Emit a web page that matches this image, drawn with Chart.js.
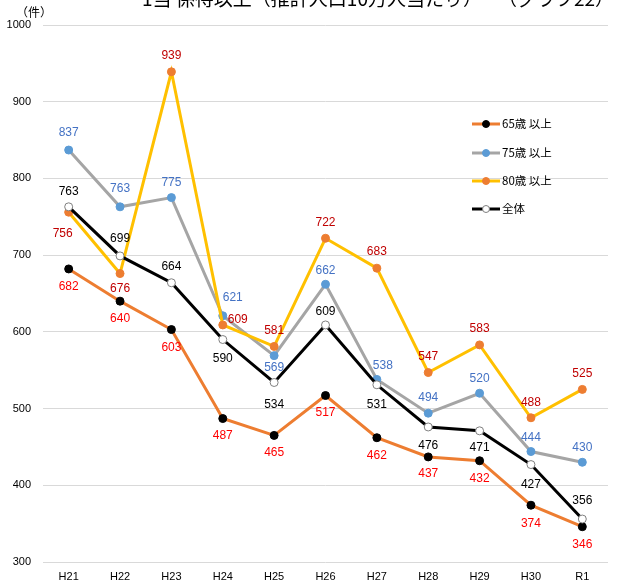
<!DOCTYPE html>
<html>
<head>
<meta charset="utf-8">
<script src="https://cdn.jsdelivr.net/npm/chart.js@4"></script>
<style>
  html, body { margin: 0; padding: 0; background: #fff; overflow: hidden; }
  #wrap { width: 619px; height: 586px; position: relative; }
</style>
</head>
<body>
<div id="wrap"><canvas id="grafico"></canvas></div>
<script>
// データ
const categories = ['H21', 'H22', 'H23', 'H24', 'H25', 'H26', 'H27', 'H28', 'H29', 'H30', 'R1'];
const over65 = [682, 640, 603, 487, 465, 517, 462, 437, 432, 374, 346];
const over75 = [837, 763, 775, 621, 569, 662, 538, 494, 520, 444, 430];
const over80 = [756, 676, 939, 609, 581, 722, 683, 547, 583, 488, 525];
const total  = [763, 699, 664, 590, 534, 609, 531, 476, 471, 427, 356];
const yTicks = [300, 400, 500, 600, 700, 800, 900, 1000];

// ラベル位置 (dx, dy)
const lbl65 = [[0,18],[0,18],[0,18],[0,17],[0,17],[0,17],[0,18],[0,17],[0,18],[0,18],[0,18]];
const lbl75 = [[0,-17],[0,-18],[0,-15],[10,-18],[0,12],[0,-14],[6,-14],[0,-15],[0,-15],[0,-14],[0,-15]];
const lbl80 = [[-6,22],[0,15],[0,-16],[15,-5],[0,-16],[0,-16],[0,-16],[0,-16],[0,-16],[0,-15],[0,-16]];
const lblAll = [[0,-15],[0,-17],[0,-16],[0,19],[0,22],[0,-13],[0,20],[0,19],[0,17],[0,20],[0,-18]];

const FONT = '"Liberation Sans", "Noto Sans CJK JP", sans-serif';

const labelPlugin = {
    id: 'pointLabels',
    afterDatasetsDraw(chart) {
        const ctx = chart.ctx;
        ctx.save();
        ctx.font = '12px ' + FONT;
        ctx.textAlign = 'center';
        ctx.textBaseline = 'middle';
        chart.data.datasets.forEach((ds, i) => {
            const meta = chart.getDatasetMeta(i);
            ctx.fillStyle = ds.labelColor;
            meta.data.forEach((pt, j) => {
                const off = ds.labelOffsets[j];
                ctx.fillText(ds.data[j], pt.x + off[0], pt.y + off[1]);
            });
        });
        ctx.restore();
    }
};

const legendPlugin = {
    id: 'innerLegend',
    afterDraw(chart) {
        const ctx = chart.ctx;
        ctx.save();
        ctx.font = '11.5px "Noto Sans CJK JP", sans-serif';
        ctx.textBaseline = 'middle';
        const x0 = 472, ys = [124, 153, 181, 209];
        chart.data.datasets.forEach((ds, i) => {
            const y = ys[i];
            ctx.strokeStyle = ds.borderColor;
            ctx.lineWidth = 3;
            ctx.beginPath();
            ctx.moveTo(x0, y);
            ctx.lineTo(x0 + 28, y);
            ctx.stroke();
            ctx.beginPath();
            ctx.arc(x0 + 14, y, 3.5, 0, Math.PI * 2);
            ctx.fillStyle = ds.pointBackgroundColor;
            ctx.fill();
            ctx.lineWidth = 1;
            ctx.strokeStyle = ds.pointBorderColor;
            ctx.stroke();
            ctx.fillStyle = '#000';
            ctx.fillText(ds.label, x0 + 30, y);
        });
        ctx.restore();
    }
};

const titlePlugin = {
    id: 'topTexts',
    afterDraw(chart) {
        const ctx = chart.ctx;
        ctx.save();
        ctx.fillStyle = '#000';
        ctx.textBaseline = 'alphabetic';
        ctx.font = '19px "Noto Sans CJK JP", sans-serif';
        ctx.textAlign = 'center';
        ctx.fillText('1当 係待以上（推計人口10万人当たり）', 312, 6);
        ctx.textAlign = 'right';
        ctx.fillText('（グラフ22）', 614, 6);
        ctx.font = '12px "Noto Sans CJK JP", sans-serif';
        ctx.textAlign = 'left';
        ctx.textBaseline = 'middle';
        ctx.fillText('（件）', 16, 12);
        ctx.restore();
    }
};

document.addEventListener('DOMContentLoaded', function() {
    const ctx = document.getElementById('grafico');
    new Chart(ctx, {
        type: 'line',
        data: {
            labels: categories,
            datasets: [{
                label: '65歳 以上',
                data: over65,
                borderColor: '#ED7D31',
                pointBackgroundColor: '#000000',
                pointBorderColor: '#000000',
                labelColor: '#FF0000',
                labelOffsets: lbl65,
                order: 3
            }, {
                label: '75歳 以上',
                data: over75,
                borderColor: '#A5A5A5',
                pointBackgroundColor: '#5B9BD5',
                pointBorderColor: '#5B9BD5',
                labelColor: '#4472C4',
                labelOffsets: lbl75,
                order: 2
            }, {
                label: '80歳 以上',
                data: over80,
                borderColor: '#FFC000',
                pointBackgroundColor: '#ED7D31',
                pointBorderColor: '#ED7D31',
                labelColor: '#C00000',
                labelOffsets: lbl80,
                order: 1
            }, {
                label: '全体',
                data: total,
                borderColor: '#000000',
                pointBackgroundColor: '#FFFFFF',
                pointBorderColor: '#7F7F7F',
                labelColor: '#000000',
                labelOffsets: lblAll,
                order: 0
            }]
        },
        options: {
            responsive: true,
            maintainAspectRatio: false,
            animation: false,
            layout: { padding: { top: 25, right: 11, left: 0, bottom: 0 } },
            elements: {
                line: { borderWidth: 3, tension: 0 },
                point: { radius: 4, borderWidth: 1 }
            },
            scales: {
                x: {
                    offset: true,
                    grid: { display: false, drawTicks: false },
                    border: { display: false },
                    ticks: { color: '#000', font: { family: FONT, size: 11 }, padding: 8 },
                    afterFit(s) { s.height = 24; }
                },
                y: {
                    min: 300,
                    max: 1000,
                    afterBuildTicks(s) { s.ticks = yTicks.map(v => ({ value: v })); },
                    grid: { color: '#D9D9D9', lineWidth: 1, drawTicks: false },
                    border: { display: false },
                    ticks: {
                        color: '#000',
                        font: { family: FONT, size: 11 },
                        padding: 12,
                        callback: v => String(v)
                    },
                    afterFit(s) { s.width = 43; }
                }
            },
            plugins: {
                legend: { display: false },
                tooltip: { enabled: false }
            }
        },
        plugins: [labelPlugin, legendPlugin, titlePlugin]
    });
});
</script>
</body>
</html>
